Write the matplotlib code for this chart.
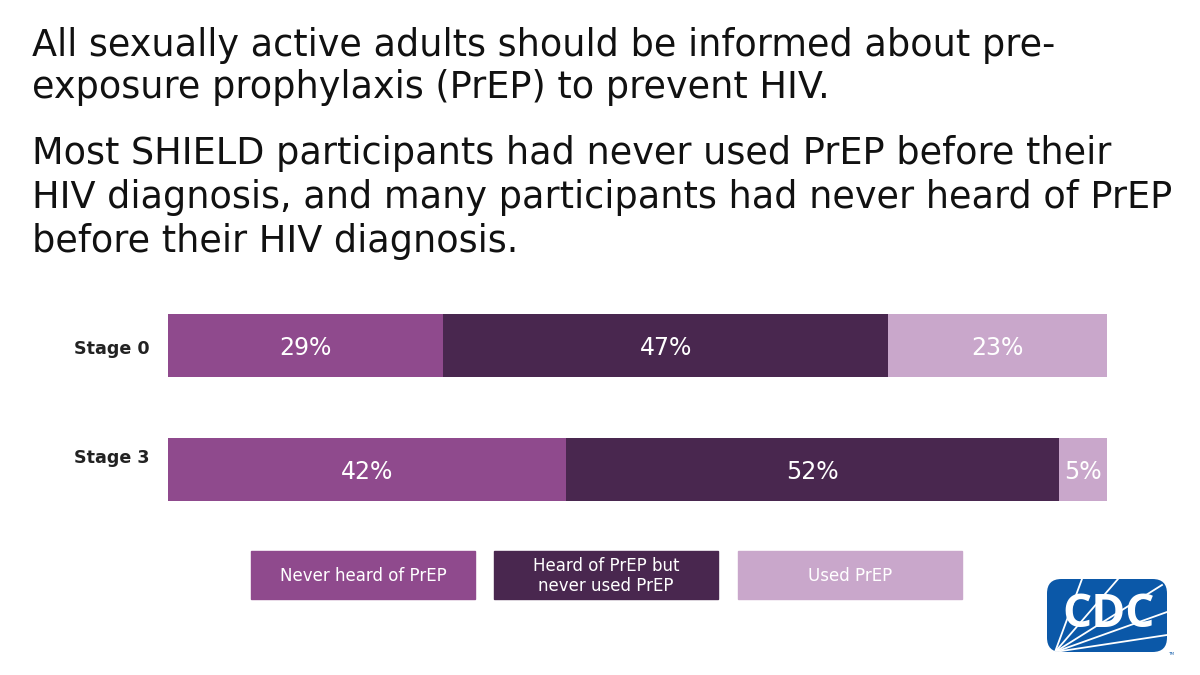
import matplotlib
matplotlib.use("Agg")
import matplotlib.pyplot as plt
from matplotlib.patches import Rectangle, FancyBboxPatch
import numpy as np

# ---- data ----
categories = ["Stage 0", "Stage 3"]
series_names = ["Never heard of PrEP", "Heard of PrEP but\nnever used PrEP", "Used PrEP"]
never_heard = [29, 42]
heard_not_used = [47, 52]
used = [23, 5]
colors = ["#8F4A8D", "#49274F", "#C9A7CB"]

title_lines_1 = ["All sexually active adults should be informed about pre-",
                 "exposure prophylaxis (PrEP) to prevent HIV."]
title_lines_2 = ["Most SHIELD participants had never used PrEP before their",
                 "HIV diagnosis, and many participants had never heard of PrEP",
                 "before their HIV diagnosis."]

FONT = "DejaVu Sans"
W, H = 1200, 675
fig = plt.figure(figsize=(12, 6.75), dpi=100)

def fx(px):
    return px / W

def fy(py):
    return 1 - py / H

# ---- title ----
for line, yb in zip(title_lines_1 + title_lines_2, [56, 98, 164, 208, 252]):
    fig.text(fx(32), fy(yb), line, fontsize=26.4, family=FONT, color="#111111",
             va="baseline", ha="left")

# ---- bars ----
ax = fig.add_axes([fx(168), fy(520), fx(1116) - fx(168), (520 - 300) / H])
ypos = np.arange(len(categories))
series = [never_heard, heard_not_used, used]
left = np.zeros(len(categories))
for vals, col in zip(series, colors):
    vals = np.array(vals, dtype=float)
    ax.barh(ypos, vals, left=left, height=0.508, color=col, edgecolor="none")
    for yi, (l, v) in enumerate(zip(left, vals)):
        ax.text(l + v / 2, yi + 0.02, f"{int(v)}%", ha="center", va="center",
                color="white", fontsize=17, family=FONT)
    left += vals

ax.set_xlim(0, 100)
ax.set_ylim(1 + 50.5 / 124, -45.5 / 124)
ax.axis("off")
label_offsets = [3.5 / 124, -11.5 / 124]
for yi, (cat, off) in enumerate(zip(categories, label_offsets)):
    ax.text(-1.9, yi + off, cat, ha="right", va="center", fontsize=12.6,
            fontweight="bold", family=FONT, color="#222222")

# ---- legend boxes ----
box_x = [251, 494, 738]
for bx, name, col in zip(box_x, series_names, colors):
    fig.patches.append(Rectangle((fx(bx), fy(599)), fx(224), 48 / H, color=col,
                                 transform=fig.transFigure, figure=fig))
    fig.text(fx(bx + 112), fy(576), name, ha="center", va="center", color="white",
             fontsize=12, family=FONT, linespacing=1.1)

# ---- CDC logo ----
lx0, ly0, lw, lh = 1047, 579, 120, 73
logo = FancyBboxPatch((fx(lx0), fy(ly0 + lh)), fx(lw), lh / H,
                      boxstyle="round,pad=0,rounding_size=0.012",
                      facecolor="#0B58A8", edgecolor="none",
                      transform=fig.transFigure, figure=fig, mutation_aspect=W / H)
fig.patches.append(logo)
ox, oy = lx0 + 8, ly0 + lh
for ex, ey in [(1082, 579), (1118, 579), (1162, 585), (1167, 612), (1167, 635)]:
    ln = plt.Line2D([fx(ox), fx(ex)], [fy(oy), fy(ey)], color="white", lw=1.3,
                    transform=fig.transFigure, figure=fig)
    ln.set_clip_path(logo)
    fig.lines.append(ln)
fig.text(fx(lx0 + lw / 2 + 2), fy(ly0 + lh / 2 - 1), "CDC", ha="center", va="center",
         color="white", fontsize=33, fontweight="bold", family="Open Sans")
fig.text(fx(1168), fy(655), "TM", fontsize=3, color="#0B58A8", family=FONT)

fig.savefig("out.png", dpi=100, facecolor="white")
